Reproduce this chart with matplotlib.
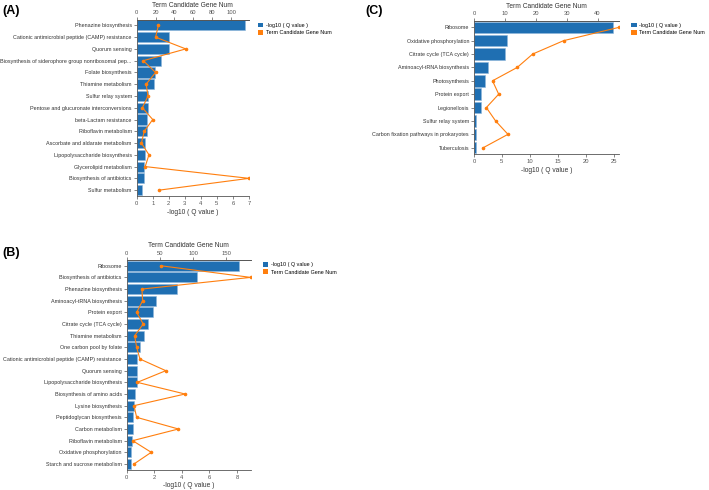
import numpy as np
import matplotlib
matplotlib.use("Agg")
import matplotlib.pyplot as plt
from matplotlib.patches import Patch

plt.rcParams["font.family"] = ["Liberation Sans", "DejaVu Sans"]

BLUE = "#1f6fb2"
ORANGE = "#ff7f0e"

# panel A
termsA = ["Phenazine biosynthesis", "Cationic antimicrobial peptide (CAMP) resistance",
          "Quorum sensing", "Biosynthesis of siderophore group nonribosomal pep...",
          "Folate biosynthesis", "Thiamine metabolism", "Sulfur relay system",
          "Pentose and glucuronate interconversions", "beta-Lactam resistance",
          "Riboflavin metabolism", "Ascorbate and aldarate metabolism",
          "Lipopolysaccharide biosynthesis", "Glycerolipid metabolism",
          "Biosynthesis of antibiotics", "Sulfur metabolism"]
qA = [6.73, 2.01, 2.01, 1.52, 1.14, 1.06, 0.73, 0.69, 0.64, 0.62, 0.50, 0.50, 0.48, 0.48, 0.31]
numA = [23, 20, 52, 7, 20, 10, 12, 6, 17, 8, 5, 13, 9, 119, 24]

# panel B
termsB = ["Ribosome", "Biosynthesis of antibiotics", "Phenazine biosynthesis",
          "Aminoacyl-tRNA biosynthesis", "Protein export", "Citrate cycle (TCA cycle)",
          "Thiamine metabolism", "One carbon pool by folate",
          "Cationic antimicrobial peptide (CAMP) resistance", "Quorum sensing",
          "Lipopolysaccharide biosynthesis", "Biosynthesis of amino acids",
          "Lysine biosynthesis", "Peptidoglycan biosynthesis", "Carbon metabolism",
          "Riboflavin metabolism", "Oxidative phosphorylation", "Starch and sucrose metabolism"]
qB = [8.12, 5.07, 3.62, 2.10, 1.88, 1.57, 1.28, 0.94, 0.75, 0.75, 0.72, 0.63, 0.53,
      0.46, 0.46, 0.36, 0.34, 0.34]
numB = [51, 187, 23, 24, 15, 25, 12, 15, 20, 59, 16, 88, 11, 15, 78, 9, 37, 11]

# panel C
termsC = ["Ribosome", "Oxidative phosphorylation", "Citrate cycle (TCA cycle)",
          "Aminoacyl-tRNA biosynthesis", "Photosynthesis", "Protein export",
          "Legionellosis", "Sulfur relay system",
          "Carbon fixation pathways in prokaryotes", "Tuberculosis"]
qC = [24.8, 5.96, 5.55, 2.56, 1.9, 1.25, 1.19, 0.42, 0.36, 0.36]
numC = [47, 29, 19, 14, 6, 8, 4, 7, 11, 3]


def panel(fig, rect, terms, q, num, qmax, qticks, nmax, nticks, tag, tagpos, legpos):
    ax = fig.add_axes(rect)
    y = np.arange(len(terms))
    ax.barh(y, q, height=0.86, color=BLUE, edgecolor="#8fb6da", linewidth=0.4, zorder=2)
    ax.set_ylim(len(terms) - 0.5, -0.5)
    ax.set_xlim(0, qmax)
    ax.set_yticks(y)
    ax.set_yticklabels(terms, fontsize=3.9, color="#333333")
    ax.set_xticks(qticks)
    ax.tick_params(axis="x", labelsize=4.2, colors="#555555", length=2, width=0.5, pad=1.5)
    ax.tick_params(axis="y", length=2, width=0.5, pad=1.5, colors="#555555")
    for lab in ax.get_yticklabels():
        lab.set_color("#333333")
    ax.set_xlabel("-log10 ( Q value )", fontsize=4.8, color="#333333", labelpad=2)
    ax.spines["right"].set_visible(False)
    for s in ["left", "bottom", "top"]:
        ax.spines[s].set_color("#555555")
        ax.spines[s].set_linewidth(0.6)

    ax2 = ax.twiny()
    ax2.plot(num, y, color=ORANGE, lw=0.8, marker="o", ms=1.6, zorder=3)
    ax2.set_xlim(0, nmax)
    ax2.set_xticks(nticks)
    ax2.tick_params(axis="x", labelsize=4.2, colors="#555555", length=2, width=0.5, pad=1)
    ax2.set_xlabel("Term Candidate Gene Num", fontsize=4.8, color="#333333", labelpad=2.5)
    for s in ["right", "left", "bottom"]:
        ax2.spines[s].set_visible(False)
    ax2.spines["top"].set_color("#555555")
    ax2.spines["top"].set_linewidth(0.6)

    fig.text(tagpos[0], tagpos[1], tag, fontsize=9, fontweight="bold", va="center", ha="left")
    handles = [Patch(facecolor=BLUE), Patch(facecolor=ORANGE)]
    fig.legend(handles, ["-log10 ( Q value )", "Term Candidate Gene Num"],
               loc="upper left", bbox_to_anchor=legpos, frameon=False, fontsize=3.9,
               handlelength=1.0, handleheight=1.0, handletextpad=0.45, labelspacing=0.35,
               borderpad=0, borderaxespad=0)


fig = plt.figure(figsize=(7.09, 4.90), dpi=100)

panel(fig, [0.1928, 0.600, 0.1584, 0.3602], termsA, qA, numA, 7, range(0, 8),
      119, range(0, 101, 20), "(A)", (0.004, 0.978), (0.3635, 0.954))
panel(fig, [0.1787, 0.0412, 0.1749, 0.4284], termsB, qB, numB, 9, range(0, 9, 2),
      187, range(0, 151, 50), "(B)", (0.004, 0.484), (0.3705, 0.465))
panel(fig, [0.6685, 0.6849, 0.2049, 0.2731], termsC, qC, numC, 26, range(0, 26, 5),
      47, range(0, 41, 10), "(C)", (0.516, 0.978), (0.8905, 0.954))

fig.savefig("out.png", dpi=100)
